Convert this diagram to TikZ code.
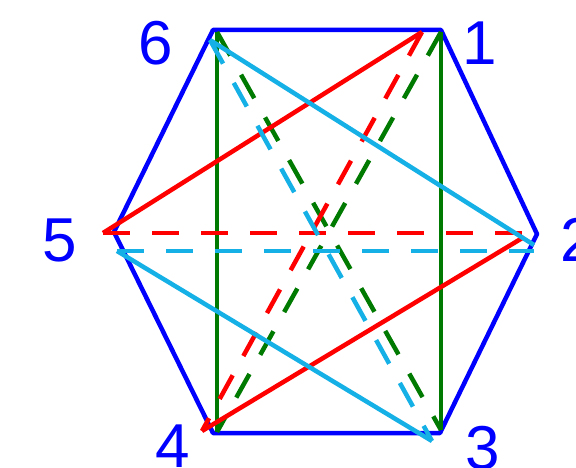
\documentclass[tikz,border=0pt]{standalone}
\usepackage{fontspec}
\setmainfont{Liberation Sans}
\usetikzlibrary{calc}

\definecolor{hexblue}{RGB}{0,0,255}
\definecolor{matchgreen}{RGB}{0,122,0}
\definecolor{matchred}{RGB}{255,0,0}
\definecolor{matchcyan}{RGB}{20,176,230}

\begin{document}
\begin{tikzpicture}[x=1pt, y=-1pt,
    solidedge/.style={line width=4.5pt},
    dashedge/.style={line width=4.5pt, dash pattern=on 27pt off 22pt},
    vlabel/.style={text=hexblue, font=\fontsize{62}{62}\selectfont, inner sep=0pt}]
    \useasboundingbox (0,0) rectangle (576,468);
    \clip (0,0) rectangle (576,468);

    % Hexagon corners
    \coordinate (H1) at (441, 30); \coordinate (H2) at (537, 234); \coordinate (H3) at (440, 433);
    \coordinate (H4) at (213, 433); \coordinate (H5) at (114, 232); \coordinate (H6) at (213, 30);
    % Green copy (1,3,4,6)
    \coordinate (G1) at (441, 32); \coordinate (G3) at (441, 430);
    \coordinate (G4) at (217, 432); \coordinate (G6) at (217, 32);
    % Red copy (1,2,4,5)
    \coordinate (R1) at (422, 32); \coordinate (R2) at (524, 237);
    \coordinate (R4) at (202, 431); \coordinate (R5) at (103, 233);
    % Cyan copy (2,3,5,6)
    \coordinate (C2) at (534, 245); \coordinate (C3) at (432, 441);
    \coordinate (C5) at (117, 251); \coordinate (C6) at (210, 40);

    % 1. Hexagon outline (Blue)
    \draw[solidedge, hexblue, line join=round] (H1) -- (H2) -- (H3) -- (H4) -- (H5) -- (H6) -- cycle;

    % 2. Green rectangle and its diagonals
    \begin{scope}[matchgreen]
        \draw[solidedge] (G6) -- (G4);
        \draw[solidedge] (G1) -- (G3);
        \draw[dashedge] (G6) -- (G3);
        \draw[dashedge] (G1) -- (G4);
    \end{scope}

    % 3. Red rectangle and its diagonals
    \begin{scope}[matchred]
        \draw[solidedge] (R5) -- (R1);
        \draw[solidedge] (R4) -- (R2);
        \draw[dashedge] (R5) -- (R5 -| R2);
        \draw[dashedge] (R1) -- (R4);
    \end{scope}

    % 4. Cyan rectangle and its diagonals
    \begin{scope}[matchcyan]
        \draw[solidedge] (C6) -- (C2);
        \draw[solidedge] (C5) -- (C3);
        \draw[dashedge] (C5) -- (C5 -| C2);
        \draw[dashedge] (C6) -- (C3);
    \end{scope}

    % 5. Vertex labels
    \node[vlabel] (L1) at (480, 43) {1};
    \node[vlabel] (L2) at (578, 240) {2};
    \node[vlabel] (L3) at (483, 448) {3};
    \node[vlabel] (L4) at (173, 446) {4};
    \node[vlabel] (L5) at (60, 240) {5};
    \node[vlabel] (L6) at (156, 43) {6};

\end{tikzpicture}
\end{document}
